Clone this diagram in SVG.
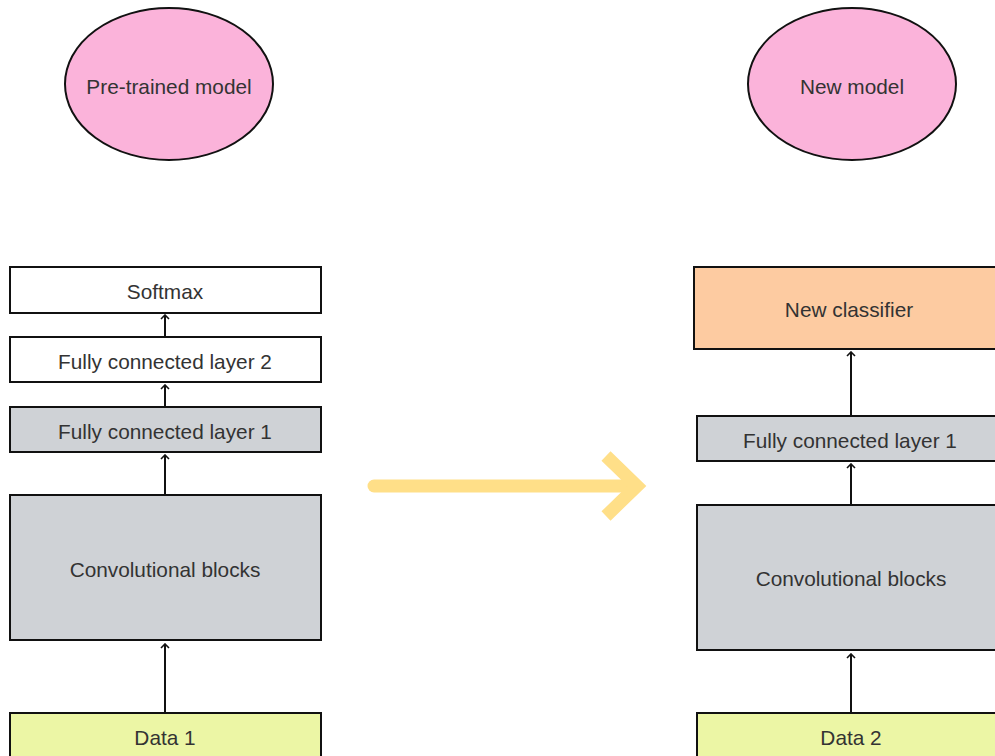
<svg xmlns="http://www.w3.org/2000/svg" width="995" height="756" viewBox="0 0 995 756">
  <defs>
    <marker id="tip" viewBox="0 0 10 10" refX="9" refY="5" markerWidth="10" markerHeight="10" markerUnits="userSpaceOnUse" orient="auto">
      <path d="M5,1 L9,5 L5,9" fill="none" stroke="#111" stroke-width="1.6"/>
    </marker>
  </defs>
  <style>
    text { font-family: "Liberation Sans", Arial, sans-serif; font-size: 20.8px; fill: #333; text-anchor: middle; dominant-baseline: central; }
    .box { stroke: #111; stroke-width: 2; }
    .white { fill: #ffffff; }
    .gray { fill: #cfd2d6; }
    .orange { fill: #fdcba1; }
    .lime { fill: #ecf6a5; }
    .oval { fill: #fbb3da; stroke: #111; stroke-width: 2; }
    .link { stroke: #111; stroke-width: 2; fill: none; }
  </style>
  <rect width="995" height="756" fill="#ffffff"/>

  <g id="pretrained-model">
    <ellipse class="oval" cx="169" cy="84" rx="104" ry="76"/>
    <text x="169" y="86">Pre-trained model</text>
  </g>
  <g id="new-model">
    <ellipse class="oval" cx="852" cy="84" rx="104" ry="76"/>
    <text x="852" y="86">New model</text>
  </g>

  <g id="softmax">
    <rect class="box white" x="10" y="267" width="311" height="46"/>
    <text x="165" y="291">Softmax</text>
  </g>
  <g id="fc2-left">
    <rect class="box white" x="10" y="337" width="311" height="45"/>
    <text x="165" y="361">Fully connected layer 2</text>
  </g>
  <g id="fc1-left">
    <rect class="box gray" x="10" y="407" width="311" height="45"/>
    <text x="165" y="431">Fully connected layer 1</text>
  </g>
  <g id="conv-left">
    <rect class="box gray" x="10" y="495" width="311" height="145"/>
    <text x="165" y="569">Convolutional blocks</text>
  </g>
  <g id="data1">
    <rect class="box lime" x="10" y="713" width="311" height="60"/>
    <text x="165" y="737">Data 1</text>
  </g>

  <g id="new-classifier">
    <rect class="box orange" x="694" y="267" width="320" height="82"/>
    <text x="849" y="309">New classifier</text>
  </g>
  <g id="fc1-right">
    <rect class="box gray" x="697" y="416" width="320" height="45"/>
    <text x="850" y="440">Fully connected layer 1</text>
  </g>
  <g id="conv-right">
    <rect class="box gray" x="697" y="505" width="320" height="145"/>
    <text x="851" y="578">Convolutional blocks</text>
  </g>
  <g id="data2">
    <rect class="box lime" x="697" y="713" width="320" height="60"/>
    <text x="851" y="737">Data 2</text>
  </g>

  <g id="connectors">
    <line class="link" x1="165" y1="337" x2="165" y2="315" marker-end="url(#tip)"/>
    <line class="link" x1="165" y1="407" x2="165" y2="385" marker-end="url(#tip)"/>
    <line class="link" x1="165" y1="495" x2="165" y2="455" marker-end="url(#tip)"/>
    <line class="link" x1="165" y1="713" x2="165" y2="644" marker-end="url(#tip)"/>
    <line class="link" x1="851" y1="416" x2="851" y2="352" marker-end="url(#tip)"/>
    <line class="link" x1="851" y1="505" x2="851" y2="464" marker-end="url(#tip)"/>
    <line class="link" x1="851" y1="713" x2="851" y2="654" marker-end="url(#tip)"/>
    <g id="transfer-arrow" stroke="#ffdf88" stroke-width="13" fill="none">
      <line x1="374" y1="486" x2="632" y2="486" stroke-linecap="round"/>
      <path d="M606,456 L637,486 L606,516"/>
    </g>
  </g>
</svg>
